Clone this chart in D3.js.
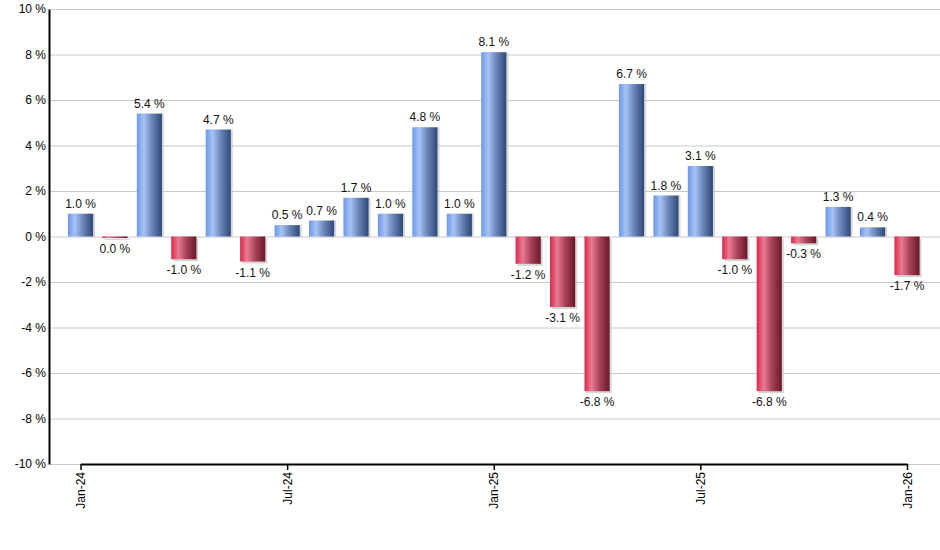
<!DOCTYPE html>
<html>
<head>
<meta charset="utf-8">
<script src="https://cdn.jsdelivr.net/npm/d3@7"></script>
<style>
  body { margin: 0; background: #fff; }
  text { font-family: "Liberation Sans", Arial, sans-serif; }
</style>
</head>
<body>
<div id="chart"></div>
<script>
// monthly returns, Jan-24 .. Jan-26
var months = ["Jan-24","Feb-24","Mar-24","Apr-24","May-24","Jun-24","Jul-24","Aug-24","Sep-24","Oct-24","Nov-24","Dec-24",
              "Jan-25","Feb-25","Mar-25","Apr-25","May-25","Jun-25","Jul-25","Aug-25","Sep-25","Oct-25","Nov-25","Dec-25","Jan-26"];
var returns = [1.0, -0.04, 5.4, -1.0, 4.7, -1.1, 0.5, 0.7, 1.7, 1.0, 4.8, 1.0,
               8.1, -1.2, -3.1, -6.8, 6.7, 1.8, 3.1, -1.0, -6.8, -0.3, 1.3, 0.4, -1.7];
var xTicks = ["Jan-24", "Jul-24", "Jan-25", "Jul-25", "Jan-26"];
var yTicks = [-10, -8, -6, -4, -2, 0, 2, 4, 6, 8, 10];

var svgWidth = 940;
var svgHeight = 550;

var margin = { top: 9, right: 0, bottom: 86, left: 50 };
var width = svgWidth - margin.left - margin.right;
var height = svgHeight - margin.top - margin.bottom;

var data = months.map(function(m, i) { return { month: m, value: returns[i] }; });

var svg = d3.select("#chart")
    .append("svg")
    .attr("width", svgWidth)
    .attr("height", svgHeight);

// gradients for the bars
var defs = svg.append("defs");
function addGradient(id, stops) {
    var g = defs.append("linearGradient")
        .attr("id", id)
        .attr("x1", "0%").attr("x2", "100%")
        .attr("y1", "0%").attr("y2", "0%");
    stops.forEach(function(s) {
        g.append("stop").attr("offset", s[0]).attr("stop-color", s[1]);
    });
}
addGradient("gradUp", [["0%", "#6d98e8"], ["28%", "#a6c3f5"], ["60%", "#6a86b8"], ["100%", "#2e4977"]]);
addGradient("gradDown", [["0%", "#dc2549"], ["28%", "#e97b91"], ["60%", "#a84359"], ["100%", "#6a1727"]]);

var chartGroup = svg.append("g")
    .attr("transform", `translate(${margin.left}, ${margin.top})`);

var xScale = d3.scalePoint()
    .domain(months)
    .range([30.5, 857]);

var barWidth = xScale.step() * 0.73;

var yScale = d3.scaleLinear()
    .domain([-10, 10])
    .range([height, 0]);

// label text, no "-0.0"
function fmt(v) {
    var s = v.toFixed(1);
    if (s === "-0.0") s = "0.0";
    return s + " %";
}

// gridlines
chartGroup.append("g")
    .selectAll("line")
    .data(yTicks)
    .enter()
    .append("line")
    .attr("x1", 0)
    .attr("x2", width)
    .attr("y1", d => yScale(d) + 0.5)
    .attr("y2", d => yScale(d) + 0.5)
    .attr("stroke", "#c8c8c8")
    .attr("stroke-width", 1);

// bar shadows
chartGroup.append("g")
    .selectAll("rect")
    .data(data)
    .enter()
    .append("rect")
    .attr("x", d => xScale(d.month) - barWidth / 2 + 2)
    .attr("y", d => Math.min(yScale(d.value), yScale(0)) + (d.value < 0 ? 2 : 0))
    .attr("width", barWidth)
    .attr("height", d => Math.max(Math.abs(yScale(d.value) - yScale(0)), 1.5))
    .attr("fill", "#c4c4c4")
    .attr("opacity", 0.7);

// bars
chartGroup.append("g")
    .selectAll("rect")
    .data(data)
    .enter()
    .append("rect")
    .attr("x", d => xScale(d.month) - barWidth / 2)
    .attr("y", d => Math.min(yScale(d.value), yScale(0)))
    .attr("width", barWidth)
    .attr("height", d => Math.max(Math.abs(yScale(d.value) - yScale(0)), 1.5))
    .attr("fill", d => d.value >= 0 ? "url(#gradUp)" : "url(#gradDown)");

// value labels
chartGroup.append("g")
    .selectAll("text")
    .data(data)
    .enter()
    .append("text")
    .attr("x", d => xScale(d.month))
    .attr("y", d => d.value >= 0 ? yScale(d.value) - 6 : Math.max(yScale(d.value), yScale(0) + 1.5) + 15)
    .attr("text-anchor", "middle")
    .attr("font-size", "12px")
    .attr("fill", "#111")
    .text(d => fmt(d.value));

// y axis
var leftAxis = d3.axisLeft(yScale)
    .tickValues(yTicks)
    .tickSize(0)
    .tickPadding(4)
    .tickFormat(d => d + " %");

var yAxis = chartGroup.append("g")
    .call(leftAxis);
yAxis.select(".domain").attr("stroke", "#000").attr("stroke-width", 2).attr("transform", "translate(-1,0)");
yAxis.selectAll("text").attr("font-size", "12px").attr("fill", "#000").attr("font-family", "Liberation Sans, Arial, sans-serif");

// x axis
var bottomAxis = d3.axisBottom(xScale)
    .tickValues(xTicks)
    .tickSizeInner(6)
    .tickSizeOuter(0);

var xAxis = chartGroup.append("g")
    .attr("transform", `translate(0, ${height})`)
    .call(bottomAxis);
xAxis.select(".domain").attr("stroke", "#000").attr("stroke-width", 2);
xAxis.selectAll(".tick line").attr("stroke", "#000").attr("stroke-width", 1.5);
xAxis.selectAll("text")
    .attr("font-size", "12px")
    .attr("fill", "#000")
    .attr("font-family", "Liberation Sans, Arial, sans-serif")
    .attr("transform", "rotate(-90)")
    .attr("text-anchor", "end")
    .attr("x", -8)
    .attr("y", 0)
    .attr("dy", "0.35em");
</script>
</body>
</html>
